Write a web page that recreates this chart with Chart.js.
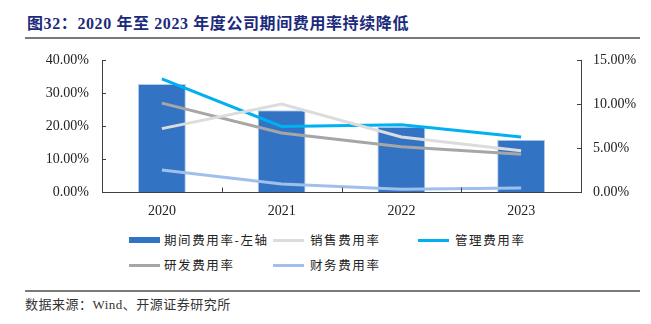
<!DOCTYPE html>
<html>
<head>
<meta charset="utf-8">
<script src="https://cdn.jsdelivr.net/npm/chart.js@4/dist/chart.umd.min.js"></script>
<style>
  html, body { margin: 0; padding: 0; background: #fff; }
  body { width: 651px; height: 324px; position: relative; overflow: hidden;
         font-family: "Liberation Serif", "Noto Sans CJK SC", serif; color: #222; }
  #title { position: absolute; left: 27px; top: 10px; font-size: 16px; font-weight: bold;
           color: #1c2a7c; letter-spacing: 0.6px; white-space: nowrap;
           font-family: "Liberation Serif", "Noto Sans CJK SC", serif; }
  .rule { position: absolute; left: 25px; width: 615px; height: 2px; background: #7a7a7a; }
  #wrap { position: absolute; left: 0; top: 0; width: 651px; height: 230px; }
  .leg { position: absolute; font-size: 12.5px; letter-spacing: 1.6px; white-space: nowrap;
         font-family: "Noto Sans CJK SC", sans-serif; color: #222; line-height: 16px; }
  .sw { position: absolute; width: 31px; }
  #source { position: absolute; left: 25px; top: 294px; font-size: 13px; color: #333;
            font-family: "Liberation Serif", "Noto Sans CJK SC", serif; letter-spacing: 0.5px; }
</style>
</head>
<body>
<div id="title">图32：2020 年至 2023 年度公司期间费用率持续降低</div>
<div class="rule" style="top:37px"></div>
<div id="wrap"><canvas id="c" width="651" height="230"></canvas></div>

<div class="sw" style="left:129px; top:237px; height:6px; background:#3373c4"></div>
<div class="leg" style="left:164px; top:232px">期间费用率-左轴</div>
<div class="sw" style="left:273px; top:239px; height:3px; background:#dcdcdc"></div>
<div class="leg" style="left:310px; top:232px">销售费用率</div>
<div class="sw" style="left:418px; top:239px; height:3px; background:#00b0f0"></div>
<div class="leg" style="left:455px; top:232px">管理费用率</div>
<div class="sw" style="left:129px; top:264px; height:3px; background:#a6a6a6"></div>
<div class="leg" style="left:164px; top:257px">研发费用率</div>
<div class="sw" style="left:273px; top:264px; height:3px; background:#a0c0ec"></div>
<div class="leg" style="left:310px; top:257px">财务费用率</div>

<div class="rule" style="top:290px"></div>
<div id="source">数据来源：Wind、开源证券研究所</div>

<script>
// Fiscal years shown on the category axis
const years = ['2020', '2021', '2022', '2023'];

// Total period expense ratio (%), left axis
const periodExpenseRate = [32.7, 24.8, 19.8, 15.8];
// Component expense ratios (%), right axis
const salesExpenseRate = [7.2, 10.0, 6.25, 4.7];
const adminExpenseRate = [12.85, 7.45, 7.65, 6.25];
const rdExpenseRate = [10.1, 6.7, 5.15, 4.3];
const financeExpenseRate = [2.5, 0.9, 0.3, 0.45];

// Axis tick values
const leftTicks = [0, 10, 20, 30, 40];
const rightTicks = [0, 5, 10, 15];

const tickFont = { family: '"Liberation Serif", serif', size: 14 };
const axisColor = '#404040';

// Short tick marks drawn inward from each axis line
const innerTicks = {
  id: 'innerTicks',
  afterDraw(chart) {
    const { ctx, chartArea: a, scales } = chart;
    ctx.save();
    ctx.strokeStyle = axisColor;
    ctx.lineWidth = 1;
    ctx.beginPath();
    leftTicks.forEach(v => {
      const y = Math.round(scales.y.getPixelForValue(v)) + 0.5;
      ctx.moveTo(a.left, y); ctx.lineTo(a.left + 4, y);
    });
    rightTicks.forEach(v => {
      const y = Math.round(scales.y2.getPixelForValue(v)) + 0.5;
      ctx.moveTo(a.right - 4, y); ctx.lineTo(a.right, y);
    });
    for (let i = 0; i < years.length - 1; i++) {
      const x = Math.round((scales.x.getPixelForTick(i) + scales.x.getPixelForTick(i + 1)) / 2) + 0.5;
      ctx.moveTo(x, a.bottom); ctx.lineTo(x, a.bottom - 4.5);
    }
    ctx.stroke();
    ctx.restore();
  }
};

const lineStyle = { type: 'line', yAxisID: 'y2', borderWidth: 3, pointRadius: 0, tension: 0, fill: false, order: 0 };

new Chart(document.getElementById('c'), {
  data: {
    labels: years,
    datasets: [
      { type: 'bar', label: '期间费用率-左轴', data: periodExpenseRate, yAxisID: 'y',
        backgroundColor: '#3373c4', borderColor: '#b3cdee', borderWidth: 1,
        barPercentage: 0.4, categoryPercentage: 1, order: 5 },
      { ...lineStyle, label: '销售费用率', data: salesExpenseRate, borderColor: '#dcdcdc' },
      { ...lineStyle, label: '研发费用率', data: rdExpenseRate, borderColor: '#a6a6a6' },
      { ...lineStyle, label: '财务费用率', data: financeExpenseRate, borderColor: '#a0c0ec' },
      { ...lineStyle, label: '管理费用率', data: adminExpenseRate, borderColor: '#00b0f0' }
    ]
  },
  options: {
    responsive: false,
    animation: false,
    layout: { padding: { top: 60, left: 0, right: 0, bottom: 0 } },
    plugins: { legend: { display: false }, tooltip: { enabled: false } },
    scales: {
      x: {
        grid: { display: false, drawTicks: false },
        border: { display: true, color: axisColor, width: 1 },
        ticks: { font: tickFont, color: '#222', padding: 11, maxRotation: 0 },
        afterFit(s) { s.height = 38; }
      },
      y: {
        position: 'left', min: 0, max: 40,
        afterBuildTicks(s) { s.ticks = leftTicks.map(v => ({ value: v })); },
        grid: { display: false, drawTicks: false },
        border: { display: true, color: axisColor, width: 1 },
        ticks: { font: tickFont, color: '#222', padding: 13,
                 callback: v => v.toFixed(2) + '%' },
        afterFit(s) { s.width = 102; }
      },
      y2: {
        position: 'right', min: 0, max: 15,
        afterBuildTicks(s) { s.ticks = rightTicks.map(v => ({ value: v })); },
        grid: { display: false, drawTicks: false },
        border: { display: true, color: axisColor, width: 1 },
        ticks: { font: tickFont, color: '#222', padding: 12,
                 callback: v => v.toFixed(2) + '%' },
        afterFit(s) { s.width = 70; }
      }
    }
  },
  plugins: [innerTicks]
});
</script>
</body>
</html>
